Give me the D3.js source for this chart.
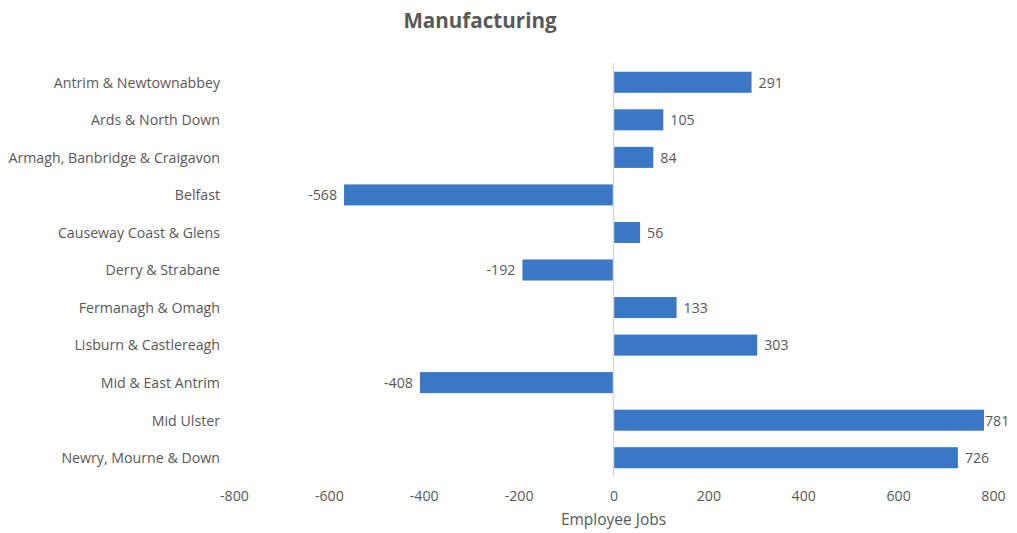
<!DOCTYPE html>
<html>
<head>
<meta charset="utf-8">
<script src="https://cdn.jsdelivr.net/npm/d3@7"></script>
<style>
  html, body { margin: 0; padding: 0; background: #fff; }
  svg text { font-family: "Open Sans", "Noto Sans", sans-serif; }
</style>
</head>
<body>
<svg id="chart" width="1017" height="533"></svg>
<script>
// Change in employee jobs in manufacturing by council area
const councils = [
  "Antrim & Newtownabbey",
  "Ards & North Down",
  "Armagh, Banbridge & Craigavon",
  "Belfast",
  "Causeway Coast & Glens",
  "Derry & Strabane",
  "Fermanagh & Omagh",
  "Lisburn & Castlereagh",
  "Mid & East Antrim",
  "Mid Ulster",
  "Newry, Mourne & Down"
];
const jobChange = [291, 105, 84, -568, 56, -192, 133, 303, -408, 781, 726];
const xTicks = [-800, -600, -400, -200, 0, 200, 400, 600, 800];

const svg = d3.select("#chart");
const textColor = "#595959";
const barColor = "#3A78C6";
const fontSize = 14.2;
const fmt = v => String(v);   // plain hyphen for negatives

const x = d3.scaleLinear().domain([-800, 800]).range([234, 993]);
const y = d3.scaleBand().domain(councils).range([63.5, 476.5]).paddingInner(0.44).paddingOuter(0.22);

// Title
svg.append("text")
  .attr("x", 480).attr("y", 28)
  .attr("text-anchor", "middle")
  .attr("fill", textColor)
  .attr("font-size", 20.6)
  .attr("font-weight", "bold")
  .text("Manufacturing");

// Bars
svg.append("g").selectAll("rect")
  .data(councils)
  .join("rect")
  .attr("x", (d, i) => x(Math.min(0, jobChange[i])))
  .attr("y", d => y(d))
  .attr("width", (d, i) => Math.abs(x(jobChange[i]) - x(0)))
  .attr("height", y.bandwidth())
  .attr("fill", barColor);

// Zero line
svg.append("line")
  .attr("x1", x(0)).attr("x2", x(0))
  .attr("y1", 63).attr("y2", 477)
  .attr("stroke", "#d9d9d9").attr("stroke-width", 1.5);

// Category labels
svg.append("g")
  .attr("transform", "translate(220,0)")
  .call(d3.axisLeft(y).tickSize(0).tickPadding(0))
  .call(g => g.select(".domain").remove())
  .call(g => g.selectAll("text").attr("fill", textColor).attr("font-size", fontSize).attr("dy", "0.38em"));

// Value labels
svg.append("g").selectAll("text")
  .data(councils)
  .join("text")
  .attr("x", (d, i) => {
    const v = jobChange[i];
    if (v < 0) return x(v) - 7;
    return Math.min(x(v) + 7, 985);
  })
  .attr("y", d => y(d) + y.bandwidth() / 2)
  .attr("dy", "0.38em")
  .attr("text-anchor", (d, i) => jobChange[i] < 0 ? "end" : "start")
  .attr("fill", textColor)
  .attr("font-size", fontSize)
  .text((d, i) => fmt(jobChange[i]));

// X axis
svg.append("g")
  .attr("transform", "translate(0,491)")
  .call(d3.axisBottom(x).tickValues(xTicks).tickFormat(fmt).tickSize(0).tickPadding(0))
  .call(g => g.select(".domain").remove())
  .call(g => g.selectAll("text").attr("fill", textColor).attr("font-size", fontSize).attr("dy", "0.71em"));

// Axis title
svg.append("text")
  .attr("x", x(0)).attr("y", 525)
  .attr("text-anchor", "middle")
  .attr("fill", textColor)
  .attr("font-size", 15.5)
  .text("Employee Jobs");
</script>
</body>
</html>
